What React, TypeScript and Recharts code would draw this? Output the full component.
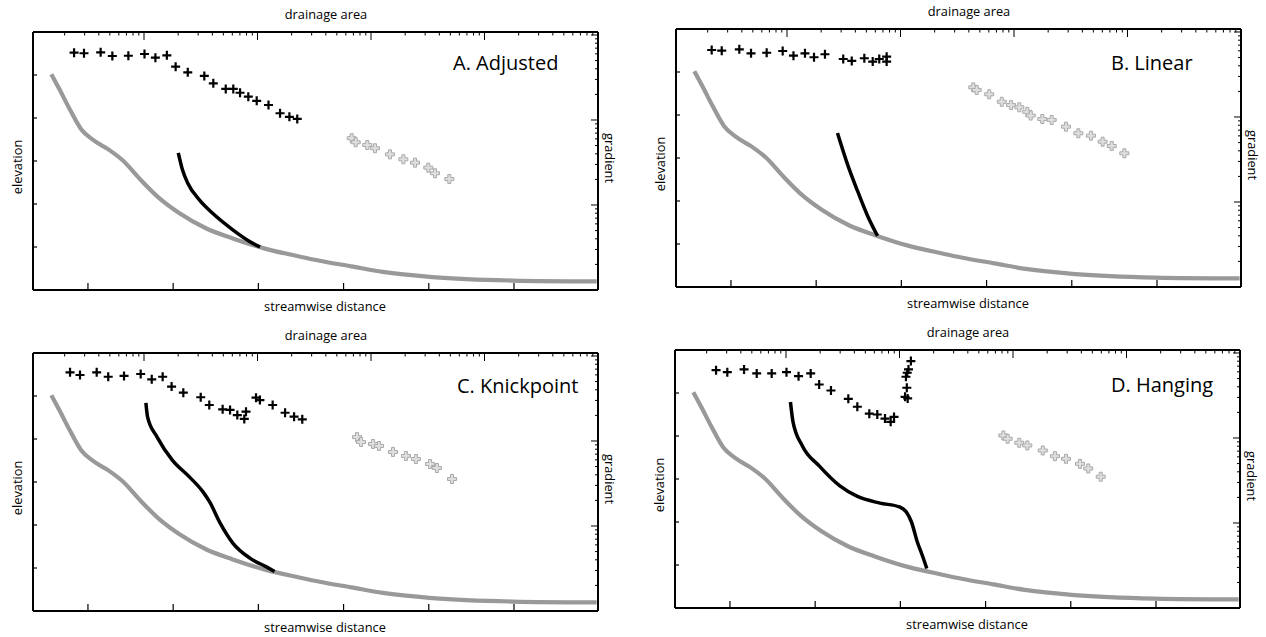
import { ComposedChart, Line, Scatter, XAxis, YAxis } from 'recharts';

type Pt = [number, number];

// axis ticks (no labels are printed, only marks)
const distanceTicks = [0, 1, 2, 3, 4, 5];
const elevationTicks = [1, 2, 3, 4, 5];
const areaDecades = [10, 100, 1000, 10000, 100000];
const areaTicks = [
  2, 3, 4, 5, 6, 7, 8, 9, 10,
  20, 30, 40, 50, 60, 70, 80, 90, 100,
  200, 300, 400, 500, 600, 700, 800, 900, 1000,
  2000, 3000, 4000, 5000, 6000, 7000, 8000, 9000, 10000,
  20000, 30000, 40000, 50000, 60000, 70000, 80000, 90000, 100000,
];
const gradientDecades = [0.001, 0.01, 0.1, 1];
const gradientTicks = [
  0.001, 0.002, 0.003, 0.004, 0.005, 0.006, 0.007, 0.008, 0.009,
  0.01, 0.02, 0.03, 0.04, 0.05, 0.06, 0.07, 0.08, 0.09,
  0.1, 0.2, 0.3, 0.4, 0.5, 0.6, 0.7, 0.8, 0.9, 1,
];

// main stem long profile [distance, elevation] - same in all four panels
const mainStem: Pt[] = [
  [-0.43, 5.02], [-0.33, 4.65], [-0.21, 4.19], [-0.08, 3.74], [0.06, 3.49],
  [0.24, 3.27], [0.41, 3.01], [0.61, 2.58], [0.84, 2.13], [1.07, 1.79],
  [1.39, 1.43], [1.7, 1.2], [2.1, 0.95], [2.48, 0.78], [2.72, 0.68],
  [3.09, 0.55], [3.46, 0.42], [4.04, 0.3], [4.98, 0.22], [5.97, 0.2],
];

// tributary profiles [distance, elevation]
const tribAdjusted: Pt[] = [
  [1.06, 3.19], [1.11, 2.79], [1.17, 2.49], [1.31, 2.09], [1.46, 1.79],
  [1.7, 1.4], [1.93, 1.09], [2.02, 1.0],
];
const tribLinear: Pt[] = [
  [1.25, 3.58], [1.37, 2.84], [1.49, 2.21], [1.6, 1.67], [1.72, 1.19],
];
const tribKnickpoint: Pt[] = [
  [0.68, 4.84], [0.7, 4.51], [0.81, 4.05], [0.99, 3.51], [1.19, 3.12],
  [1.35, 2.77], [1.43, 2.53], [1.55, 2.05], [1.7, 1.58], [1.9, 1.23],
  [2.1, 1.02], [2.19, 0.92],
];
const tribHanging: Pt[] = [
  [0.71, 4.79], [0.74, 4.33], [0.85, 3.77], [1.05, 3.3], [1.29, 2.84],
  [1.49, 2.6], [1.76, 2.44], [1.99, 2.35], [2.07, 2.23], [2.13, 2.0],
  [2.2, 1.53], [2.26, 1.21], [2.31, 0.92],
];

// tributary gradient vs drainage area [area, gradient]
const tribSlopeAdjusted: Pt[] = [
  [2.42, 0.619], [2.96, 0.61], [4.15, 0.625], [5.26, 0.566], [7.28, 0.57],
  [10.1, 0.597], [12.6, 0.541], [15.9, 0.577], [19.0, 0.424], [24.3, 0.364],
  [34.0, 0.33], [40.8, 0.27], [52.5, 0.232], [61.2, 0.232], [70.2, 0.209],
  [83.0, 0.188], [98.4, 0.168], [125, 0.15], [158, 0.12], [191, 0.109], [224, 0.103],
];
const tribSlopeLinear: Pt[] = [
  [2.17, 0.614], [2.66, 0.603], [3.8, 0.625], [4.82, 0.561], [6.62, 0.57],
  [9.16, 0.597], [11.4, 0.526], [14.4, 0.561], [17.3, 0.504], [21.6, 0.547],
  [31.3, 0.481], [37.2, 0.456], [48.0, 0.491], [56.9, 0.448], [65.0, 0.481],
  [75.5, 0.512], [75.5, 0.448],
];
const tribSlopeKnickpoint: Pt[] = [
  [2.23, 0.643], [2.73, 0.597], [3.83, 0.643], [4.84, 0.57], [6.67, 0.582],
  [9.35, 0.614], [11.7, 0.532], [14.6, 0.57], [17.5, 0.436], [22.2, 0.37],
  [31.6, 0.327], [37.6, 0.265], [49.3, 0.236], [57.3, 0.232], [66.4, 0.202],
  [76.5, 0.182], [79.2, 0.221], [97.0, 0.323], [105, 0.303], [136, 0.265],
  [175, 0.215], [210, 0.193], [248, 0.18],
];
const tribSlopeHanging: Pt[] = [
  [2.42, 0.628], [3.04, 0.594], [4.27, 0.64], [5.52, 0.574], [7.48, 0.574],
  [10.1, 0.594], [12.9, 0.533], [16.5, 0.574], [19.6, 0.426], [24.9, 0.362],
  [35.4, 0.289], [42.5, 0.233], [54.2, 0.193], [63.7, 0.189], [74.5, 0.169],
  [83.6, 0.155], [89.5, 0.177], [112, 0.305], [118, 0.292], [116, 0.39],
  [114, 0.525], [117, 0.585], [120, 0.64], [126, 0.802],
];

// main stem gradient vs drainage area [area, gradient]
const mainSlopeAdjusted: Pt[] = [
  [676, 0.061], [733, 0.0547], [927, 0.0508], [1084, 0.0465], [1469, 0.0394],
  [1928, 0.0345], [2443, 0.0315], [3199, 0.0275], [3664, 0.0236], [4898, 0.0202],
];
const mainSlopeLinear: Pt[] = [
  [438, 0.223], [469, 0.208], [605, 0.185], [780, 0.151], [942, 0.138],
  [1114, 0.13], [1309, 0.115], [1403, 0.104], [1774, 0.0946], [2148, 0.0923],
  [2871, 0.0769], [3690, 0.0643], [4764, 0.0603], [6039, 0.0512], [7261, 0.0456],
  [9376, 0.0374],
];
const mainSlopeKnickpoint: Pt[] = [
  [753, 0.111], [817, 0.0973], [1042, 0.0923], [1175, 0.0873], [1563, 0.0743],
  [2032, 0.0667], [2489, 0.0614], [3311, 0.0536], [3811, 0.0481], [5176, 0.0357],
];
const mainSlopeHanging: Pt[] = [
  [822, 0.107], [897, 0.098], [1135, 0.0879], [1337, 0.0817], [1828, 0.0713],
  [2344, 0.0611], [2931, 0.0569], [3890, 0.0497], [4603, 0.0438], [5929, 0.035],
];

const W = 565;
const H = 258;
const M = 30;
const FONT = "'Open Sans', sans-serif";

const panels = [
  { title: 'A. Adjusted', left: 33, top: 32, tx: 450, ty: 68, trib: tribAdjusted, tribSlope: tribSlopeAdjusted, mainSlope: mainSlopeAdjusted },
  { title: 'B. Linear', left: 676, top: 29, tx: 465, ty: 71, trib: tribLinear, tribSlope: tribSlopeLinear, mainSlope: mainSlopeLinear },
  { title: 'C. Knickpoint', left: 33, top: 353, tx: 454, ty: 70, trib: tribKnickpoint, tribSlope: tribSlopeKnickpoint, mainSlope: mainSlopeKnickpoint },
  { title: 'D. Hanging', left: 675, top: 350, tx: 466, ty: 72, trib: tribHanging, tribSlope: tribSlopeHanging, mainSlope: mainSlopeHanging },
];

const axisLine = { stroke: '#000', strokeWidth: 2 };

// inward tick marks drawn from the axis line
const BottomTick = (p: any) => <line x1={p.x} y1={p.y} x2={p.x} y2={p.y - 7} stroke="#000" strokeWidth={1.2} />;
const LeftTick = (p: any) => <line x1={p.x} y1={p.y} x2={p.x + 4} y2={p.y} stroke="#000" strokeWidth={1.2} />;
const TopTick = (p: any) => {
  const len = areaDecades.includes(p.payload.value) ? 8 : 3.5;
  return <line x1={p.x} y1={p.y} x2={p.x} y2={p.y + len} stroke="#000" strokeWidth={1} />;
};
const RightTick = (p: any) => {
  const len = gradientDecades.includes(p.payload.value) ? 7 : 3;
  return <line x1={p.x} y1={p.y} x2={p.x - len} y2={p.y} stroke="#000" strokeWidth={1} />;
};

const BlackPlus = (p: any) => (
  <path d={`M${p.cx - 4.5},${p.cy}h9M${p.cx},${p.cy - 4.5}v9`} stroke="#000" strokeWidth={2.2} fill="none" />
);
const GrayPlus = (p: any) => {
  const a = 4.5;
  const w = 1.5;
  const { cx, cy } = p;
  const d = `M${cx - w},${cy - a}H${cx + w}V${cy - w}H${cx + a}V${cy + w}H${cx + w}V${cy + a}H${cx - w}V${cy + w}H${cx - a}V${cy - w}H${cx - w}Z`;
  return <path d={d} fill="#dedede" stroke="#a9a9a9" strokeWidth={1} />;
};

const textStyle = { fontFamily: FONT, fontSize: 12.8, fill: '#000' };

function Panel({ p }: { p: (typeof panels)[number] }) {
  const profile = mainStem.map(([d, z]) => ({ d, z }));
  const trib = p.trib.map(([d, z]) => ({ d, z }));
  const tribSlope = p.tribSlope.map(([a, g]) => ({ a, g }));
  const mainSlope = p.mainSlope.map(([a, g]) => ({ a, g }));

  return (
    <div style={{ position: 'absolute', left: p.left - M, top: p.top - M }}>
      <ComposedChart width={W + 2 * M} height={H + 2 * M} margin={{ top: M, right: M, bottom: M, left: M }}>
        <XAxis
          xAxisId="dist"
          dataKey="d"
          type="number"
          orientation="bottom"
          mirror
          height={1}
          domain={[-0.645, 5.986]}
          allowDataOverflow
          ticks={distanceTicks}
          interval={0}
          tickLine={false}
          tickSize={0}
          tickMargin={0}
          tick={BottomTick}
          axisLine={axisLine}
          label={{
            content: () => (
              <text x={M + 292} y={M + H + 21} textAnchor="middle" style={textStyle}>streamwise distance</text>
            ),
          }}
        />
        <XAxis
          xAxisId="area"
          dataKey="a"
          type="number"
          scale="log"
          orientation="top"
          mirror
          height={1}
          domain={[1.052, 100000]}
          allowDataOverflow
          ticks={areaTicks}
          interval={0}
          tickLine={false}
          tickSize={0}
          tickMargin={0}
          tick={TopTick}
          axisLine={axisLine}
          label={{
            content: () => (
              <g>
                <text x={M + 293} y={M - 13} textAnchor="middle" style={textStyle}>drainage area</text>
                <text x={p.tx} y={p.ty} style={{ fontFamily: FONT, fontSize: 20, fill: '#000' }}>{p.title}</text>
              </g>
            ),
          }}
        />
        <YAxis
          yAxisId="elev"
          dataKey="z"
          type="number"
          orientation="left"
          mirror
          width={1}
          domain={[0, 6]}
          allowDataOverflow
          ticks={elevationTicks}
          interval={0}
          tickLine={false}
          tickSize={0}
          tickMargin={0}
          tick={LeftTick}
          axisLine={axisLine}
          label={{
            content: () => (
              <text
                transform={`translate(${M - 16},${M + 135}) rotate(-90)`}
                textAnchor="middle"
                dominantBaseline="central"
                style={textStyle}
              >
                elevation
              </text>
            ),
          }}
        />
        <YAxis
          yAxisId="grad"
          dataKey="g"
          type="number"
          scale="log"
          orientation="right"
          mirror
          width={1}
          domain={[0.001, 1.084]}
          allowDataOverflow
          ticks={gradientTicks}
          interval={0}
          tickLine={false}
          tickSize={0}
          tickMargin={0}
          tick={RightTick}
          axisLine={axisLine}
          label={{
            content: () => (
              <text
                transform={`translate(${M + W + 12},${M + 126}) rotate(90)`}
                textAnchor="middle"
                dominantBaseline="central"
                style={textStyle}
              >
                gradient
              </text>
            ),
          }}
        />
        <Line
          xAxisId="dist"
          yAxisId="elev"
          data={profile}
          dataKey="z"
          type="monotone"
          stroke="#999999"
          strokeWidth={4.2}
          dot={false}
          activeDot={false}
          isAnimationActive={false}
        />
        <Line
          xAxisId="dist"
          yAxisId="elev"
          data={trib}
          dataKey="z"
          type="monotone"
          stroke="#000"
          strokeWidth={3.5}
          dot={false}
          activeDot={false}
          isAnimationActive={false}
        />
        <Scatter
          xAxisId="area"
          yAxisId="grad"
          data={mainSlope}
          dataKey="g"
          shape={GrayPlus}
          isAnimationActive={false}
        />
        <Scatter
          xAxisId="area"
          yAxisId="grad"
          data={tribSlope}
          dataKey="g"
          shape={BlackPlus}
          isAnimationActive={false}
        />
      </ComposedChart>
    </div>
  );
}

export default function App() {
  return (
    <div style={{ position: 'absolute', left: 0, top: 0, width: 1266, height: 637, background: '#fff', overflow: 'hidden' }}>
      {panels.map((p) => (
        <Panel key={p.title} p={p} />
      ))}
    </div>
  );
}
